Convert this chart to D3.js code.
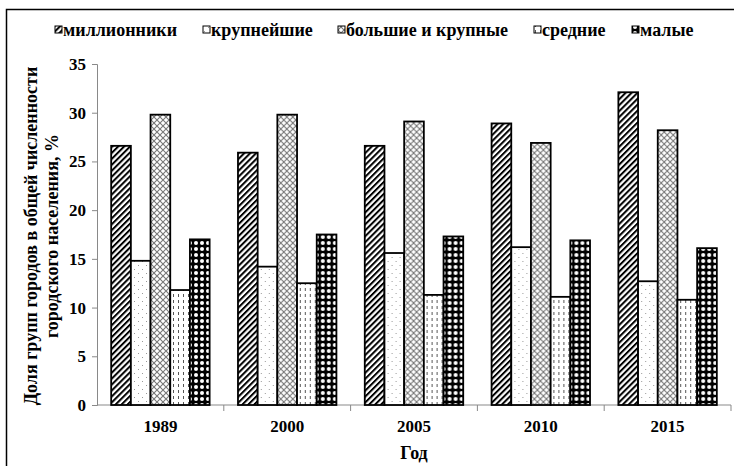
<!DOCTYPE html>
<html lang="ru">
<head>
<meta charset="UTF-8">
<title>Доля групп городов</title>
<script src="https://d3js.org/d3.v7.min.js"></script>
<style>
    body { margin: 0; background: #fff; }
    text { font-family: "Liberation Serif", "Times New Roman", serif; font-weight: bold; fill: #000; }
    .axis path, .axis line { stroke: #898989; }
</style>
</head>
<body>
<script>

    var width = 734,
        height = 466;

    // данные
    var years = ["1989", "2000", "2005", "2010", "2015"];
    var groups = ["миллионники", "крупнейшие", "большие и крупные", "средние", "малые"];
    var millionniki = [26.6, 25.9, 26.6, 28.9, 32.1];
    var krupneyshie = [14.8, 14.2, 15.6, 16.2, 12.7];
    var bolshie = [29.8, 29.8, 29.1, 26.9, 28.2];
    var srednie = [11.8, 12.5, 11.3, 11.1, 10.8];
    var malye = [17.0, 17.5, 17.3, 16.9, 16.1];
    var yTicks = [0, 5, 10, 15, 20, 25, 30, 35];

    var series = [millionniki, krupneyshie, bolshie, srednie, malye];
    var patternIds = ["p-hatch", "p-dots", "p-cross", "p-dash", "p-black"];

    var svg = d3.select("body").append("svg")
        .attr("width", width)
        .attr("height", height);

    // узоры заливки
    var defs = svg.append("defs");

    var p1 = defs.append("pattern").attr("id", "p-hatch")
        .attr("patternUnits", "userSpaceOnUse")
        .attr("width", 4.2).attr("height", 4.2)
        .attr("patternTransform", "rotate(45)");
    p1.append("rect").attr("width", 4.2).attr("height", 4.2).attr("fill", "#fff");
    p1.append("rect").attr("x", 0).attr("width", 2).attr("height", 4.2).attr("fill", "#000");

    var p2 = defs.append("pattern").attr("id", "p-dots")
        .attr("patternUnits", "userSpaceOnUse")
        .attr("width", 8).attr("height", 8);
    p2.append("rect").attr("width", 8).attr("height", 8).attr("fill", "#fff");
    p2.append("rect").attr("x", 1).attr("y", 1).attr("width", 1).attr("height", 1).attr("fill", "#999");
    p2.append("rect").attr("x", 5).attr("y", 5).attr("width", 1).attr("height", 1).attr("fill", "#999");

    var p3 = defs.append("pattern").attr("id", "p-cross")
        .attr("patternUnits", "userSpaceOnUse")
        .attr("width", 6).attr("height", 6);
    p3.append("rect").attr("width", 6).attr("height", 6).attr("fill", "#fff");
    p3.append("path").attr("d", "M0,0L6,6M6,0L0,6")
        .attr("stroke", "#777").attr("stroke-width", 1.1);

    var p4 = defs.append("pattern").attr("id", "p-dash")
        .attr("patternUnits", "userSpaceOnUse")
        .attr("width", 5).attr("height", 6);
    p4.append("rect").attr("width", 5).attr("height", 6).attr("fill", "#fff");
    p4.append("rect").attr("x", 1).attr("y", 0).attr("width", 1).attr("height", 3).attr("fill", "#555");

    var p5 = defs.append("pattern").attr("id", "p-black")
        .attr("patternUnits", "userSpaceOnUse")
        .attr("width", 6).attr("height", 6);
    p5.append("rect").attr("width", 6).attr("height", 6).attr("fill", "#000");
    p5.append("circle").attr("cx", 3).attr("cy", 3).attr("r", 2).attr("fill", "#fff");

    // рамка
    svg.append("path")
        .attr("d", "M6.5,466V9.5H734")
        .attr("fill", "none")
        .attr("stroke", "#000")
        .attr("stroke-width", 1.5);

    var x0 = d3.scaleBand()
        .domain(years)
        .range([97, 731])
        .paddingInner(0)
        .paddingOuter(0);

    var x1 = d3.scaleBand()
        .domain(d3.range(groups.length))
        .range([0, x0.bandwidth()])
        .paddingOuter(0.72)
        .paddingInner(0);

    var y = d3.scaleLinear()
        .domain([0, 35])
        .range([405, 64]);

    // оси
    var yAxis = svg.append("g")
        .attr("class", "axis")
        .attr("transform", "translate(97,0)")
        .call(d3.axisLeft(y).tickValues(yTicks).tickSize(5).tickPadding(6));
    yAxis.selectAll("text").style("font-size", "17px");

    var xAxis = svg.append("g")
        .attr("class", "axis")
        .attr("transform", "translate(0,405)");
    xAxis.append("line")
        .attr("x1", 97).attr("x2", 731)
        .attr("y1", 0).attr("y2", 0);
    xAxis.selectAll(".tk")
        .data(years.slice(1).concat(["end"]))
        .enter().append("line")
        .attr("class", "tk")
        .attr("x1", function(d, i) { return 97 + x0.step() * (i + 1); })
        .attr("x2", function(d, i) { return 97 + x0.step() * (i + 1); })
        .attr("y1", 0).attr("y2", 6);

    svg.selectAll(".xlab")
        .data(years)
        .enter().append("text")
        .attr("class", "xlab")
        .attr("x", function(d) { return x0(d) + x0.bandwidth() / 2; })
        .attr("y", 432)
        .attr("text-anchor", "middle")
        .style("font-size", "17px")
        .text(function(d) { return d; });

    // столбцы
    var gYear = svg.selectAll(".year")
        .data(years)
        .enter().append("g")
        .attr("class", "year")
        .attr("transform", function(d) { return "translate(" + x0(d) + ",0)"; });

    gYear.selectAll("rect")
        .data(function(d, i) { return series.map(function(s, k) { return { k: k, v: s[i] }; }); })
        .enter().append("rect")
        .attr("x", function(d) { return x1(d.k); })
        .attr("width", x1.bandwidth())
        .attr("y", function(d) { return y(d.v); })
        .attr("height", function(d) { return y(0) - y(d.v); })
        .attr("fill", function(d) { return "url(#" + patternIds[d.k] + ")"; })
        .attr("stroke", "#000")
        .attr("stroke-width", 1.8);

    // подписи осей
    svg.append("text")
        .attr("x", 414)
        .attr("y", 459)
        .attr("text-anchor", "middle")
        .style("font-size", "18px")
        .text("Год");

    var yTitle = svg.append("text")
        .attr("transform", "translate(37,236) rotate(-90)")
        .attr("text-anchor", "middle")
        .style("font-size", "18px");
    yTitle.append("tspan").attr("x", 0).attr("dy", 0)
        .text("Доля групп городов в общей численности");
    yTitle.append("tspan").attr("x", 0).attr("dy", 21)
        .text("городского населения, %");

    // легенда
    var legendX = [55, 203, 338, 534, 632];
    var leg = svg.selectAll(".leg")
        .data(groups)
        .enter().append("g")
        .attr("class", "leg")
        .attr("transform", function(d, i) { return "translate(" + legendX[i] + ",30)"; });
    leg.append("rect")
        .attr("x", 0).attr("y", -4)
        .attr("width", 7).attr("height", 7)
        .attr("fill", function(d, i) { return "url(#" + patternIds[i] + ")"; })
        .attr("stroke", "#000")
        .attr("stroke-width", 1);
    leg.append("text")
        .attr("x", 8)
        .attr("y", 6)
        .style("font-size", "18px")
        .text(function(d) { return d; });

</script>
</body>
</html>
